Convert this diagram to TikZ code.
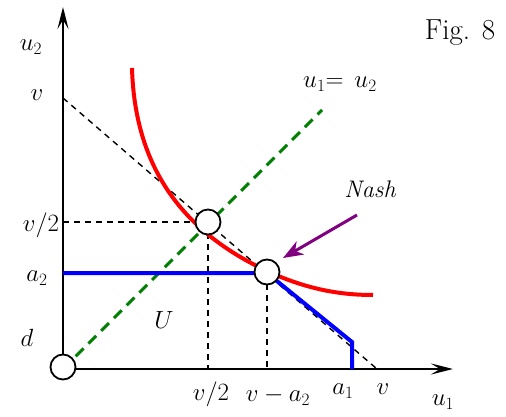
\documentclass[tikz,border=0pt]{standalone}
\usetikzlibrary{arrows.meta}
\definecolor{nashpurple}{RGB}{128,0,128}
\definecolor{darkgreen}{RGB}{0,128,0}
\begin{document}
\begin{tikzpicture}[x=1pt,y=-1pt,
  lbl/.style={inner sep=0pt,anchor=center,font=\fontsize{25}{30}\selectfont},
  pt/.style={circle,draw,fill=white,line width=1.8pt,minimum size=25pt,inner sep=0pt},
  axis/.style={line width=2.6pt,-{Stealth[length=22pt,width=11pt,inset=9pt]}},
  guide/.style={line width=1.4pt,dash pattern=on 6pt off 5pt},
  diag/.style={line width=3pt,darkgreen,dash pattern=on 11pt off 7pt},
  util/.style={line width=4pt,red},
  frontier/.style={line width=4pt,blue},
  pointer/.style={line width=3pt,nashpurple,-{Stealth[length=20pt,width=15pt,inset=6pt]}}]
\useasboundingbox (0,0) rectangle (506,417);
% coordinates
\coordinate (O) at (63,369);
\coordinate (ytop) at (63,7);
\coordinate (xend) at (453,369);
\coordinate (vY) at (63,98);
\coordinate (vX) at (377,369);
\coordinate (v2Y) at (63,222);
\coordinate (v2X) at (208,369);
\coordinate (vaX) at (267,369);
\coordinate (a2Y) at (63,273);
\coordinate (a1top) at (352,342);
\coordinate (a1bot) at (352,369);
\coordinate (gend) at (322,110);
\coordinate (arrS) at (357,215);
\coordinate (arrE) at (283,258);
\coordinate (cTop) at (132,68);
\coordinate (cMid) at (267,271);
\coordinate (cEnd) at (373,295);
% axes
\draw[axis] (O) -- (xend);
\draw[axis] (O) -- (ytop);
% guides
\draw[guide] (vY) -- (vX);
\draw[guide] (v2Y) -- (208,222);
\draw[guide] (208,222) -- (v2X);
\draw[guide] (267,273) -- (vaX);
% diagonal
\draw[diag] (O) -- (gend);
% utility curve
\draw[util] (cTop) .. controls (135,175) and (190,235) .. (cMid)
            .. controls (310,291) and (345,295) .. (cEnd);
% frontier
\draw[frontier] (a2Y) -- (267,273) -- (a1top) -- (a1bot);
% points
\node[pt] (P) at (208,222) {};
\node[pt] (N) at (267,272) {};
\node[pt] (D) at (63,367) {};
% pointer
\draw[pointer] (arrS) -- (arrE);
% labels
\node[lbl] (u2lab) at (31,47) {$u_2$};
\node[lbl] (vYlab) at (37,95) {$v$};
\node[lbl] (v2Ylab) at (41,225) {$v/2$};
\node[lbl] (a2lab) at (37,278) {$a_2$};
\node[lbl] (dlab) at (27,338) {$d$};
\node[lbl] (Ulab) at (164,320) {$U$};
\node[lbl] (v2Xlab) at (211,394) {$v/2$};
\node[lbl] (valab) at (278,396) {$v-a_2$};
\node[lbl] (a1lab) at (343,391) {$a_1$};
\node[lbl] (vXlab) at (383,389) {$v$};
\node[lbl] (u1lab) at (443,402) {$u_1$};
\node[lbl] (eqlab) at (340,84) {$u_1{=}\;\,u_2$};
\node[lbl,font=\fontsize{29}{34}\selectfont] (figlab) at (460,33) {Fig. 8};
\node[lbl,font=\fontsize{24}{28}\selectfont\itshape] (nashlab) at (370,189) {Nash};
\end{tikzpicture}
\end{document}
